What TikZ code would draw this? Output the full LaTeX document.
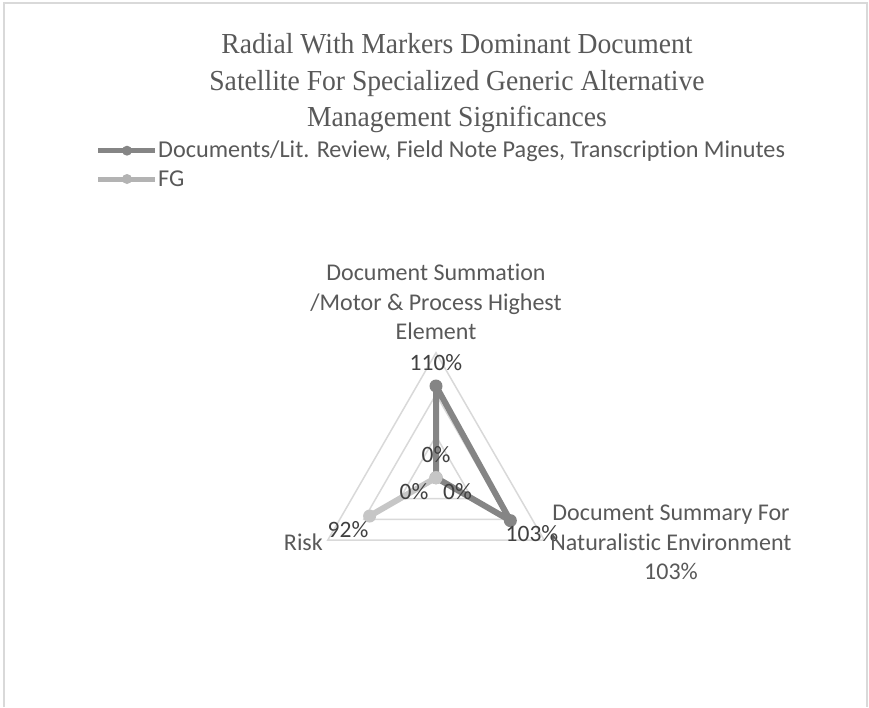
\documentclass[tikz,border=0pt]{standalone}
\usepackage{fontspec}
\setmainfont{Liberation Serif}
\newfontfamily\calfont[Ligatures=NoCommon]{Carlito}
\usetikzlibrary{calc}
\definecolor{framec}{HTML}{D9D9D9}
\definecolor{gridc}{HTML}{D9D9D9}
\definecolor{serA}{HTML}{858585}
\definecolor{serB}{HTML}{C6C6C6}
\definecolor{serBleg}{HTML}{B3B3B3}
\definecolor{labc}{HTML}{404040}
\definecolor{catc}{HTML}{595959}
\definecolor{titc}{HTML}{595959}
\newcommand{\titsq}[1]{\scalebox{0.952}[1]{#1}}
\tikzset{
  frameline/.style={draw=framec, line width=2pt},
  gridline/.style={draw=gridc, line width=1.5pt},
  seriesA/.style={draw=serA, line width=6pt, line join=round},
  seriesB/.style={draw=serB, line width=6pt, line join=round},
  markA/.style={circle, fill=serA, inner sep=0pt, minimum size=13pt},
  markB/.style={circle, fill=serB, inner sep=0pt, minimum size=13pt},
  titletext/.style={anchor=base, inner sep=0pt, text=titc, font=\fontsize{29}{34}\selectfont},
  cattext/.style={anchor=base, inner sep=0pt, text=catc, font=\calfont\fontsize{24}{29}\selectfont},
  datatext/.style={anchor=base, inner sep=0pt, text=labc, font=\calfont\fontsize{23.5}{29}\selectfont},
  legtext/.style={anchor=base west, inner sep=0pt, text=catc, font=\calfont\fontsize{24.2}{29}\selectfont},
}
\begin{document}
\begin{tikzpicture}[x=1pt, y=-1pt]
\useasboundingbox[fill=white] (0,0) rectangle (869,707);
% chart frame
\draw[frameline] (4,707) -- (4,2.5) -- (867,2.5) -- (867,707);
% title
\node[titletext] (t1) at (457,53.3) {\titsq{Radial With Markers Dominant Document}};
\node[titletext] (t2) at (457,90) {\titsq{Satellite For Specialized Generic Alternative}};
\node[titletext] (t3) at (457,126.7) {\titsq{Management Significances}};
% legend
\coordinate (la1) at (98,150.7);
\coordinate (la2) at (155,150.7);
\coordinate (lb1) at (98,179);
\coordinate (lb2) at (155,179);
\draw[draw=serA, line width=5pt] (la1) -- (la2);
\node[circle, fill=serA, inner sep=0pt, minimum size=10pt] (lma) at (127,150.7) {};
\draw[draw=serBleg, line width=5pt] (lb1) -- (lb2);
\node[circle, fill=serBleg, inner sep=0pt, minimum size=10pt] (lmb) at (127,179) {};
\node[legtext] (lta) at (158,157.5) {Documents/Lit. Review, Field Note Pages, Transcription Minutes};
\node[legtext] (ltb) at (158,186) {FG};
% radar grid
\coordinate (C) at (436,477.7);
\foreach \r in {41.67,83.33,125}{
  \draw[gridline] ($(C)+(-90:\r)$) -- ($(C)+(30:\r)$) -- ($(C)+(150:\r)$) -- cycle;
}
% data points
\coordinate (a1) at ($(C)+(-90:91.67)$);
\coordinate (a2) at ($(C)+(30:85.83)$);
\coordinate (a3) at (C);
\coordinate (b1) at (C);
\coordinate (b2) at (C);
\coordinate (b3) at ($(C)+(150:76.67)$);
% series A
\draw[seriesA] (a1) -- (a2) -- (a3) -- cycle;
\node[markA] (ma1) at (a1) {};
\node[markA] (ma2) at (a2) {};
\node[markA] (ma3) at (a3) {};
% series B
\draw[seriesB] (b1) -- (b2) -- (b3) -- cycle;
\node[markB] (mb1) at (b1) {};
\node[markB] (mb2) at (b2) {};
\node[markB] (mb3) at (b3) {};
% data labels
\node[datatext] (da1) at (436,370) {110\%};
\node[datatext] (da2) at (532,541) {103\%};
\node[datatext] (da3) at (414,499) {0\%};
\node[datatext] (db1) at (436,462) {0\%};
\node[datatext] (db2) at (457.5,499) {0\%};
\node[datatext] (db3) at (348,537) {92\%};
% category labels
\node[cattext] (ct1) at (436,280) {Document Summation};
\node[cattext] (ct2) at (436,310) {/Motor \& Process Highest};
\node[cattext] (ct3) at (436,339) {Element};
\node[cattext] (cr1) at (671,520) {Document Summary For};
\node[cattext] (cr2) at (671,550) {Naturalistic Environment};
\node[cattext] (cr3) at (671,579) {103\%};
\node[cattext, anchor=base east] (cl1) at (323,550) {Risk};
\end{tikzpicture}
\end{document}
